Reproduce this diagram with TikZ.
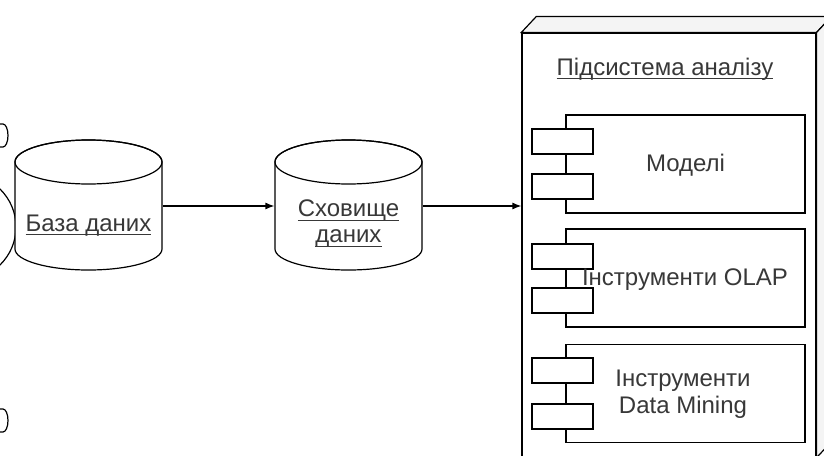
\documentclass[tikz,border=0pt]{standalone}
\usepackage{fontspec}
\setmainfont{Liberation Sans}
\usetikzlibrary{arrows.meta}
\definecolor{txt}{HTML}{383838}
\definecolor{topface}{HTML}{F4F4F4}
\newsavebox\ulbox
\newcommand\ulin[1]{\sbox\ulbox{#1}\rlap{\rule[-3.5pt]{\wd\ulbox}{0.9pt}}\usebox\ulbox}
\begin{document}
\begin{tikzpicture}[x=1pt,y=-1pt,
  line width=1.2pt,
  lbl/.style={font=\fontsize{24}{27}\selectfont, text=txt, inner sep=0pt, align=center},
  cylbox/.style={minimum width=147pt, minimum height=88pt, inner sep=0pt},
  comp/.style={draw, fill=white, minimum width=239pt, minimum height=98pt, inner sep=0pt},
  tab/.style={draw, fill=white, minimum width=61pt, minimum height=25pt, inner sep=0pt},
  arr/.style={-{Latex[length=9pt,width=7pt]}}]
\useasboundingbox (0,0) rectangle (824,455);
\clip (0,0) rectangle (824,455);

% cut-off fragments at the left edge
\draw (0,124) -- (3,124) arc[start angle=90,end angle=-90,x radius=5pt,y radius=11.5pt] -- (0,147);
\draw (-37,227) circle[radius=53pt];
\draw (0,409) -- (3,409) arc[start angle=90,end angle=-90,x radius=5pt,y radius=11.5pt] -- (0,432);

% cylinder 1
\draw[fill=white] (15,162) -- (15,249) arc[start angle=180,end angle=360,x radius=73.5pt,y radius=21pt] -- (162,162) arc[start angle=0,end angle=180,x radius=73.5pt,y radius=22pt] -- cycle;
\draw (88.5,162) ellipse[x radius=73.5pt,y radius=22pt];
\node[cylbox] (db) at (88.5,206) {};
\node[lbl] (dbl) at (88.5,226) {\ulin{База даних}};

% cylinder 2
\draw[fill=white] (275,162) -- (275,249) arc[start angle=180,end angle=360,x radius=73.5pt,y radius=21pt] -- (422,162) arc[start angle=0,end angle=180,x radius=73.5pt,y radius=22pt] -- cycle;
\draw (348.5,162) ellipse[x radius=73.5pt,y radius=22pt];
\node[cylbox] (dw) at (348.5,206) {};
\node[lbl,font=\fontsize{24}{26}\selectfont] (dwl) at (348.5,224) {\ulin{Сховище}\\\ulin{даних}};

% subsystem 3D box
\node[draw, fill=white, minimum width=294pt, minimum height=424pt, inner sep=0pt] (sub) at (669,245) {};
\draw[fill=topface] (sub.north west) -- ++(15pt,16pt) -- ([shift={(15pt,16pt)}]sub.north east) -- (sub.north east) -- cycle;
\draw[fill=topface] (sub.north east) -- ++(15pt,16pt) -- ([shift={(15pt,16pt)}]sub.south east) -- (sub.south east) -- cycle;
\node[lbl] (title) at (665,69) {\ulin{Підсистема аналізу}};

% components
\node[comp] (c1) at (685.5,164) {};
\node[tab] (c1a) at (562.5,141.5) {};
\node[tab] (c1b) at (562.5,186.5) {};
\node[lbl] (c1l) at (685.5,165) {Моделі};

\node[comp] (c2) at (685.5,278) {};
\node[tab] (c2a) at (562.5,256.5) {};
\node[tab] (c2b) at (562.5,300.5) {};
\node[lbl] (c2l) at (685,280) {Інструменти OLAP};

\node[comp] (c3) at (685.5,393.5) {};
\node[tab] (c3a) at (562.5,370.5) {};
\node[tab] (c3b) at (562.5,416.5) {};
\node[lbl] (c3l) at (683,394) {Інструменти\\Data Mining};

% connectors
\draw[arr] (db.east) -- (dw.west);
\draw[arr] (dw.east) -- (dw.east -| sub.west);
\end{tikzpicture}
\end{document}
